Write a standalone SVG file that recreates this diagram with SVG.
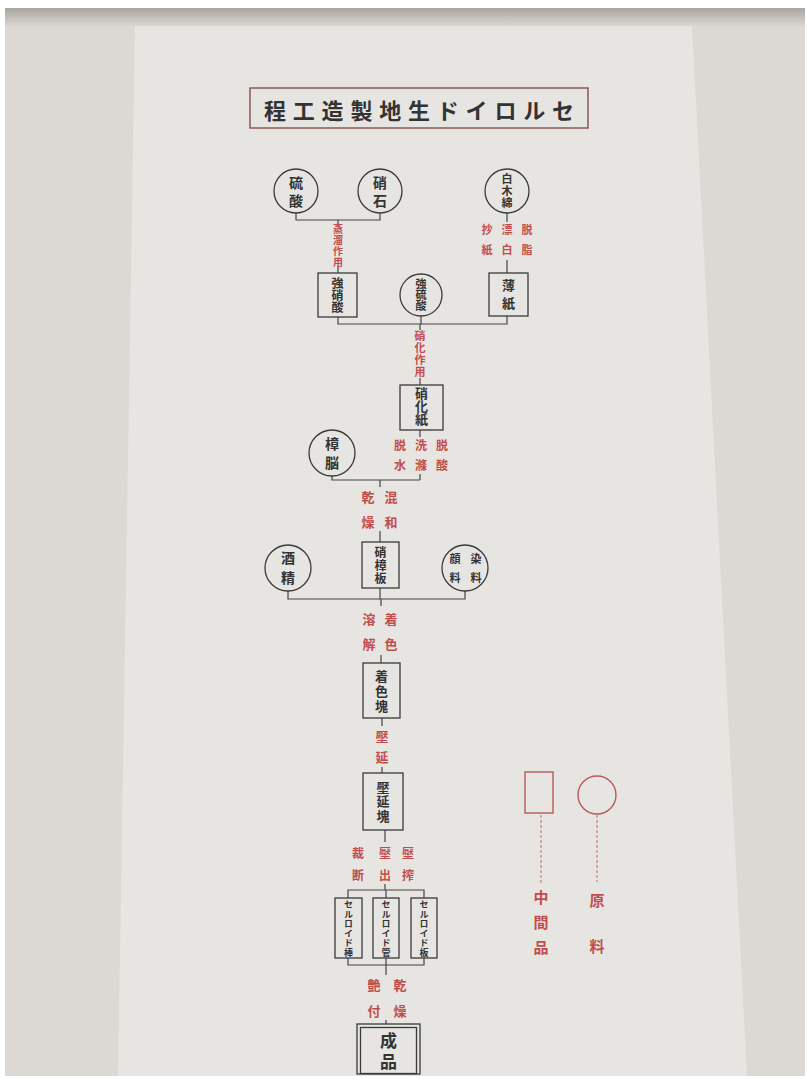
<svg xmlns="http://www.w3.org/2000/svg" width="807" height="1079" viewBox="0 0 807 1079">
<defs>
<linearGradient id="shadow" x1="0" y1="0" x2="0" y2="1">
<stop offset="0" stop-color="#a9a5a0"/>
<stop offset="1" stop-color="#d9d6d1"/>
</linearGradient>
<style>
.k{font-family:"Noto Sans CJK JP","Noto Sans CJK SC",sans-serif;fill:#333;text-anchor:middle;dominant-baseline:central;font-weight:700}
.r{font-family:"Noto Sans CJK JP","Noto Sans CJK SC",sans-serif;fill:#c24c4c;text-anchor:middle;dominant-baseline:central;font-weight:700}
.v{writing-mode:vertical-rl;text-orientation:upright}
.n{fill:none;stroke:#3a3a3a;stroke-width:1.3}
.c{fill:none;stroke:#444;stroke-width:1.2}
.lg{fill:none;stroke:#b85a5a;stroke-width:1.4}
.dash{fill:none;stroke:#c06a6a;stroke-width:1;stroke-dasharray:3 2}
</style>
</defs>
<!-- background photo of paper -->
<rect x="0" y="0" width="807" height="1079" fill="#ffffff"/>
<rect x="5" y="8" width="800" height="1068" fill="#dcd9d4"/>
<rect x="5" y="8" width="800" height="18" fill="url(#shadow)"/>
<polygon points="135,26 692,26 747,1076 118,1076" fill="#e6e5e2"/>

<!-- title -->
<g id="title">
<rect x="250" y="88" width="338" height="40" fill="none" stroke="#8b5858" stroke-width="1.5"/>
<text class="k" x="419" y="109" font-size="22" textLength="310" lengthAdjust="spacing" fill="#3c3c3c">程工造製地生ドイロルセ</text>
</g>

<!-- connectors -->
<g id="connectors">
<path class="c" d="M296 213 V220 H380 V213 M338 220 V226 M338 266 V273"/>
<path class="c" d="M507 213 V222 M507 260 V273"/>
<path class="c" d="M338 317 V324 H507 V316 M421 316 V324 M420 324 V330 M420 378 V385"/>
<path class="c" d="M420 430 V437 M420 474 V480 M332 476 V480 H420 M380 480 V487 M380 531 V542"/>
<path class="c" d="M288 591 V599 H465 V591 M380 588 V599 M381 599 V606 M381 655 V663"/>
<path class="c" d="M382 718 V726 M382 767 V773 M385 830 V842 M385 884 V890"/>
<path class="c" d="M348 898 V890 H424 V898 M386 890 V898"/>
<path class="c" d="M348 958 V965 H424 V958 M386 958 V975 M386 1020 V1024"/>
</g>

<!-- process labels (red, vertical columns read right to left) -->
<g id="labels">
<text class="r v" x="338" y="246" font-size="10" letter-spacing="1">蒸溜作用</text>
<text class="r v" x="527" y="244.5" font-size="11" letter-spacing="9">脱脂</text>
<text class="r v" x="507" y="244.5" font-size="11" letter-spacing="9">漂白</text>
<text class="r v" x="487" y="244.5" font-size="11" letter-spacing="9">抄紙</text>
<text class="r v" x="420" y="354.5" font-size="11" letter-spacing="1">硝化作用</text>
<text class="r v" x="442" y="459" font-size="12" letter-spacing="8">脱酸</text>
<text class="r v" x="421" y="459" font-size="12" letter-spacing="8">洗滌</text>
<text class="r v" x="400" y="459" font-size="12" letter-spacing="8">脱水</text>
<text class="r v" x="391" y="515.5" font-size="13" letter-spacing="12">混和</text>
<text class="r v" x="368" y="515.5" font-size="13" letter-spacing="12">乾燥</text>
<text class="r v" x="391" y="637.5" font-size="13" letter-spacing="12">着色</text>
<text class="r v" x="369" y="637.5" font-size="13" letter-spacing="12">溶解</text>
<text class="r v" x="382" y="750.5" font-size="13" letter-spacing="8">壓延</text>
<text class="r v" x="408" y="869" font-size="12" letter-spacing="10">壓搾</text>
<text class="r v" x="385" y="869" font-size="12" letter-spacing="10">壓出</text>
<text class="r v" x="358" y="869" font-size="12" letter-spacing="10">裁断</text>
<text class="r v" x="400" y="1004.5" font-size="13" letter-spacing="13">乾燥</text>
<text class="r v" x="374" y="1004.5" font-size="13" letter-spacing="13">艶付</text>
</g>

<!-- raw material circles -->
<g id="n-ryusan"><circle class="n" cx="296" cy="191" r="22"/><text class="k v" x="296" y="194" font-size="14" letter-spacing="4">硫酸</text></g>
<g id="n-shoseki"><circle class="n" cx="380" cy="191" r="22"/><text class="k v" x="380" y="194" font-size="14" letter-spacing="4">硝石</text></g>
<g id="n-momen"><circle class="n" cx="507" cy="191" r="22"/><text class="k v" x="507" y="191.5" font-size="11" letter-spacing="1">白木綿</text></g>
<g id="n-kyoryusan"><circle class="n" cx="421" cy="295" r="21"/><text class="k v" x="421" y="295" font-size="11">強硫酸</text></g>
<g id="n-shono"><circle class="n" cx="332" cy="453" r="23"/><text class="k v" x="332" y="456" font-size="14" letter-spacing="5">樟脳</text></g>
<g id="n-shusei"><circle class="n" cx="288" cy="568" r="23"/><text class="k v" x="288" y="571" font-size="14" letter-spacing="6">酒精</text></g>
<g id="n-ganryo"><circle class="n" cx="465" cy="568" r="23"/><text class="k v" x="476" y="572.5" font-size="11" letter-spacing="8">染料</text><text class="k v" x="455" y="572.5" font-size="11" letter-spacing="8">顔料</text></g>

<!-- intermediate boxes -->
<g id="n-kyoshosan"><rect class="n" x="318" y="273" width="39" height="44"/><text class="k v" x="337.5" y="295" font-size="12">強硝酸</text></g>
<g id="n-usugami"><rect class="n" x="489" y="273" width="39" height="43"/><text class="k v" x="508.5" y="296.5" font-size="13" letter-spacing="5">薄紙</text></g>
<g id="n-shokashi"><rect class="n" x="400" y="385" width="43" height="45"/><text class="k v" x="421.5" y="406" font-size="13">硝化紙</text></g>
<g id="n-shoshoban"><rect class="n" x="362" y="542" width="37" height="46"/><text class="k v" x="380.5" y="565.5" font-size="12" letter-spacing="1">硝樟板</text></g>
<g id="n-chakushokukai"><rect class="n" x="363" y="663" width="37" height="55"/><text class="k v" x="381.5" y="692" font-size="13" letter-spacing="2">着色塊</text></g>
<g id="n-atsuenkai"><rect class="n" x="363" y="773" width="40" height="57"/><text class="k v" x="383" y="802.2" font-size="13" letter-spacing="1.5">壓延塊</text></g>
<g id="n-bo"><rect class="n" x="335" y="898" width="27" height="60"/><text class="k v" x="348.5" y="928.8" font-size="9" letter-spacing="0.6">セルロイド棒</text></g>
<g id="n-kan"><rect class="n" x="373" y="898" width="26" height="60"/><text class="k v" x="386" y="928.8" font-size="9" letter-spacing="0.6">セルロイド管</text></g>
<g id="n-ban"><rect class="n" x="411" y="898" width="26" height="60"/><text class="k v" x="424" y="928.8" font-size="9" letter-spacing="0.6">セルロイド板</text></g>
<g id="n-seihin"><rect class="n" x="357" y="1024" width="63" height="50"/><rect class="n" x="360.5" y="1027.5" width="56" height="46"/><text class="k v" x="388.5" y="1053.5" font-size="17" letter-spacing="4">成品</text></g>

<!-- legend -->
<g id="legend">
<rect class="lg" x="525" y="772" width="28" height="41"/>
<circle class="lg" cx="597" cy="795" r="19"/>
<path class="dash" d="M541 815 V885 M597 815 V882"/>
<text class="r v" x="541" y="927" font-size="15" letter-spacing="10">中間品</text>
<text class="r v" x="597" y="938.5" font-size="15" letter-spacing="31">原料</text>
</g>
</svg>
